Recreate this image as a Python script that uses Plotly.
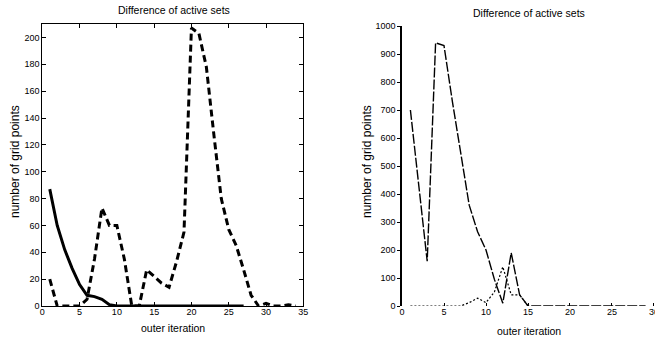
import plotly.graph_objects as go

# ---- data (left panel) ----
left_x_solid = list(range(1, 28))
left_solid = [87, 60, 42, 28, 16, 8, 7, 5, 1, 0, 0, 0, 0, 0, 0, 0, 0, 0, 0, 0,
              0, 0, 0, 0, 0, 0, 0]
left_x_dashed = list(range(1, 35))
left_dashed = [20, 0, 0, 0, 0, 5, 35, 73, 60, 60, 35, 0, 0, 27, 22, 17, 14, 33,
               55, 207, 203, 178, 128, 80, 57, 45, 27, 8, 0, 2, 0, 0, 1, 0]

# ---- data (right panel) ----
right_x_a = list(range(1, 30))
right_a = [700, 430, 160, 940, 930, 730, 540, 360, 265, 200, 95, 10, 190, 40, 0,
           0, 0, 0, 0, 0, 0, 0, 0, 0, 0, 0, 0, 0, 0]
right_x_b = list(range(1, 16))
right_b = [0, 0, 0, 0, 0, 0, 0, 12, 28, 12, 50, 140, 40, 40, 0]

left_xticks = [0, 5, 10, 15, 20, 25, 30, 35]
left_yticks = [0, 20, 40, 60, 80, 100, 120, 140, 160, 180, 200]
right_xticks = [0, 5, 10, 15, 20, 25, 30]
right_yticks = [0, 100, 200, 300, 400, 500, 600, 700, 800, 900, 1000]

title_text = "Difference of active sets"
xlabel_text = "outer iteration"
ylabel_text = "number of grid points"

W, H = 655, 339
SANS = "Liberation Sans, Arial, sans-serif"

fig = go.Figure()
fig.add_trace(go.Scatter(x=left_x_solid, y=left_solid, mode="lines",
                         line=dict(color="black", width=3), xaxis="x", yaxis="y",
                         showlegend=False))
fig.add_trace(go.Scatter(x=left_x_dashed, y=left_dashed, mode="lines",
                         line=dict(color="black", width=3, dash="7px,4px"),
                         xaxis="x", yaxis="y", showlegend=False))
fig.add_trace(go.Scatter(x=right_x_a, y=right_a, mode="lines",
                         line=dict(color="black", width=1.4, dash="10px,2px"),
                         xaxis="x2", yaxis="y2", showlegend=False))
fig.add_trace(go.Scatter(x=right_x_b, y=right_b, mode="lines",
                         line=dict(color="black", width=1.2, dash="2px,2px"),
                         xaxis="x2", yaxis="y2", showlegend=False))

def px_x(p):
    return p / W

def px_y(p):
    return (H - p) / H

tickfont = dict(family=SANS, size=9, color="black")

fig.update_layout(
    width=W, height=H,
    margin=dict(l=0, r=0, t=0, b=0),
    paper_bgcolor="white", plot_bgcolor="white",
    xaxis=dict(domain=[px_x(42.3), px_x(303.3)], range=[0, 35],
               tickvals=left_xticks, ticks="inside", ticklen=4, tickcolor="black",
               showline=True, linecolor="black", linewidth=1, mirror="ticks",
               showgrid=False, zeroline=False, tickfont=tickfont, anchor="y",
               ticklabelstandoff=-3, automargin=False),
    yaxis=dict(domain=[px_y(306), px_y(24)], range=[0, 210],
               tickvals=left_yticks, ticks="inside", ticklen=4, tickcolor="black",
               showline=True, linecolor="black", linewidth=1, mirror="ticks",
               showgrid=False, zeroline=False, tickfont=tickfont, anchor="x",
               automargin=False),
    xaxis2=dict(domain=[px_x(402), 1.0], range=[0, 30.12],
                tickvals=right_xticks, ticks="inside", ticklen=3, tickcolor="black",
                showline=False, showgrid=False, zeroline=False,
                tickfont=tickfont, anchor="y2", ticklabelstandoff=-1,
                automargin=False, ticklabeloverflow="allow"),
    yaxis2=dict(domain=[px_y(306), px_y(26)], range=[0, 1000],
                tickvals=right_yticks, ticks="outside", ticklen=3, tickcolor="black",
                showline=True, linecolor="black", linewidth=1.5,
                showgrid=False, zeroline=False, tickfont=tickfont, anchor="x2",
                automargin=False),
)

annots = [
    dict(text=title_text, x=px_x(173.5), y=px_y(10), size=10.5),
    dict(text=xlabel_text, x=px_x(173), y=px_y(328), size=10.5),
    dict(text=ylabel_text, x=px_x(15), y=px_y(162), size=12, textangle=-90),
    dict(text=title_text, x=px_x(529), y=px_y(13), size=10.5),
    dict(text=xlabel_text, x=px_x(529), y=px_y(331), size=10.5),
    dict(text=ylabel_text, x=px_x(367), y=px_y(161), size=12, textangle=-90),
]
for a in annots:
    size = a.pop("size")
    a.update(xref="paper", yref="paper", showarrow=False,
             xanchor="center", yanchor="middle",
             font=dict(family=SANS, size=size, color="black"))
    fig.add_annotation(**a)

fig.write_html(
    "out.html",
    config={"displayModeBar": False},
    post_script="document.body.style.margin='0';document.body.style.overflow='hidden';",
)
